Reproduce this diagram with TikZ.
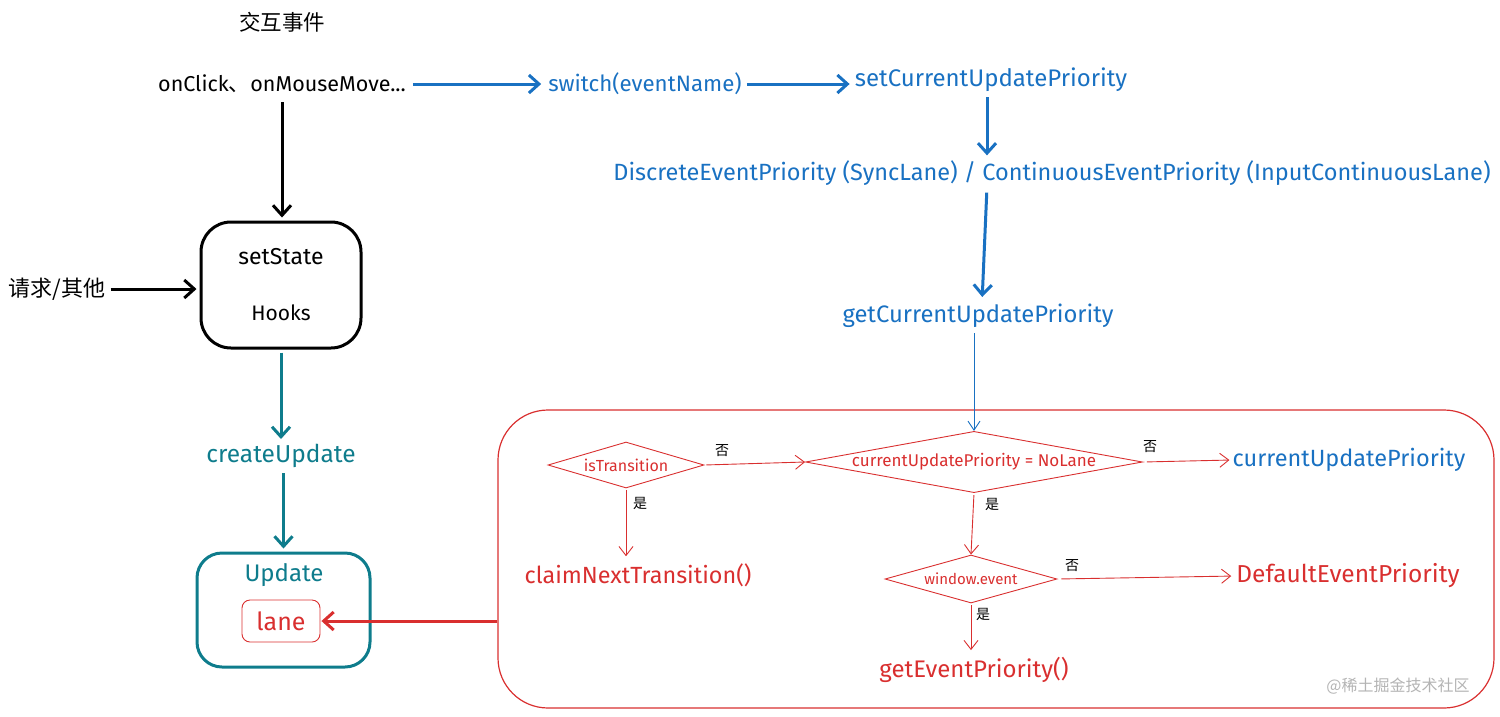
\documentclass[tikz,border=0pt]{standalone}
\usepackage{fontspec}
\setmainfont{Fira Sans}
\newfontfamily\cjk{Noto Sans CJK SC}
\usetikzlibrary{arrows.meta,shapes.geometric}
\definecolor{exblue}{HTML}{1971C2}
\definecolor{exteal}{HTML}{0E7C8C}
\definecolor{exred}{HTML}{D92F2F}
\definecolor{wmgray}{HTML}{B4B4B4}
\begin{document}
\begin{tikzpicture}[x=1pt,y=-1pt,
  lbl/.style={inner sep=1pt, font=\fontsize{20}{24}\selectfont},
  fs/.style={font=\fontsize{#1}{#1}\selectfont},
  small/.style={inner sep=1pt, font=\fontsize{14}{16}\selectfont\cjk},
  dia/.style={diamond, draw=exred, line width=0.9pt, inner sep=0pt, text=exred},
  blk/.style={line width=3pt, black, -{Straight Barb[length=10pt,width=18pt]}},
  blu/.style={line width=3pt, exblue, -{Straight Barb[length=10pt,width=18pt]}},
  tel/.style={line width=3pt, exteal, -{Straight Barb[length=10pt,width=18pt]}},
  thinred/.style={line width=0.9pt, exred, -{Straight Barb[length=9pt,width=14pt]}},
  thinblue/.style={line width=0.9pt, exblue, -{Straight Barb[length=9pt,width=12pt]}},
  thickred/.style={line width=3pt, exred, -{Straight Barb[length=10pt,width=18pt]}}]
\useasboundingbox (0,0) rectangle (1500,716);

% left column
\node[lbl, fs=21.5] (title) at (282,22) {\cjk 交互事件};
\node[lbl, fs=21.5] (click) at (282,84) {onClick{\cjk 、}onMouseMove...};
\node[draw, line width=3pt, rounded corners=30pt, minimum width=160pt, minimum height=126pt] (state) at (281,285) {};
\node[lbl, fs=23] (settxt) at (281,257) {setState};
\node[lbl, fs=21] (hooks) at (281,313) {Hooks};
\node[lbl, fs=22] (req) at (57,289) {\cjk 请求/其他};
\node[lbl, fs=24.5, text=exteal] (create) at (281,456) {createUpdate};
\node[draw=exteal, line width=3pt, rounded corners=25pt, minimum width=173pt, minimum height=114pt] (update) at (283.5,610) {};
\node[lbl, fs=24, text=exteal] (updtxt) at (284,575) {Update};
\node[draw=exred, line width=0.9pt, rounded corners=8pt, minimum width=78pt, minimum height=42pt, text=exred, fs=25] (lane) at (281,621) {lane};

% blue chain
\node[lbl, fs=22.3, text=exblue] (switch) at (645,84) {switch(eventName)};
\node[lbl, fs=24, text=exblue] (setcur) at (991,80) {setCurrentUpdatePriority};
\node[lbl, fs=23.5, text=exblue] (prio) at (1052,173) {DiscreteEventPriority (SyncLane) / ContinuousEventPriority (InputContinuousLane)};
\node[lbl, fs=23.8, text=exblue] (getcur) at (978,316) {getCurrentUpdatePriority};

% red box
\node[draw=exred, line width=1.2pt, rounded corners=50pt, minimum width=996pt, minimum height=298pt] (box) at (996,559) {};
\node[dia, aspect=3.4, fs=16, minimum width=156pt, minimum height=46pt] (istr) at (626,465) {isTransition};
\node[dia, aspect=5.5, fs=17, minimum width=332pt, minimum height=60pt] (nolane) at (974,462) {currentUpdatePriority = NoLane};
\node[dia, aspect=3.6, fs=15, minimum width=172pt, minimum height=48pt] (win) at (971,579) {window.event};
\node[lbl, fs=23.4, text=exred] (claim) at (638,575) {claimNextTransition()};
\node[lbl, fs=23.5, text=exblue] (cup) at (1349,460) {currentUpdatePriority};
\node[lbl, fs=24.5, text=exred] (def) at (1348,576) {DefaultEventPriority};
\node[lbl, fs=24, text=exred] (gep) at (974,670) {getEventPriority()};
\node[small] (no1) at (722,451) {否};
\node[small] (no2) at (1150,447) {否};
\node[small] (no3) at (1072,566) {否};
\node[small] (yes1) at (640,503) {是};
\node[small] (yes2) at (992,504) {是};
\node[small] (yes3) at (983,614) {是};
\node[inner sep=1pt, text=wmgray, font=\fontsize{16}{18}\selectfont\cjk] (wm) at (1398,686) {@稀土掘金技术社区};

% connectors
\draw[blk, shorten <=8pt, shorten >=3pt] (click.south) -- (click.south |- state.north);
\draw[blk, shorten <=4pt, shorten >=3pt] (req.east) -- (state.west |- req.east);
\draw[tel, shorten <=3pt, shorten >=4pt] (state.south) -- (create.north);
\draw[tel, shorten <=4pt, shorten >=3pt] (create.south -| update.north) -- (update.north);
\draw[blu, shorten <=6pt, shorten >=6pt] (click.east) -- (switch.west);
\draw[blu, shorten <=4pt, shorten >=4pt] (switch.east) -- (setcur.west |- switch.east);
\draw[blu, shorten <=4pt, shorten >=4pt] (setcur.south -| 987,0) -- (prio.north -| 987,0);
\draw[blu, shorten <=6pt, shorten >=6pt] (prio.south -| 987,0) -- (getcur.north -| 982,0);
\draw[thinblue, shorten <=4pt] (getcur.south -| nolane.north) -- (nolane.north);
\draw[thinred, shorten <=2pt, shorten >=0pt] (istr.east) -- (nolane.west);
\draw[thinred, shorten <=4pt, shorten >=2pt] (nolane.east) -- (cup.west);
\draw[thinred, shorten <=2pt, shorten >=6pt] (istr.south) -- (istr.south |- claim.north);
\draw[thinred, shorten <=2pt, shorten >=0pt] (nolane.south) -- (win.north);
\draw[thinred, shorten <=4pt, shorten >=4pt] (win.east) -- (def.west);
\draw[thinred, shorten <=2pt, shorten >=6pt] (win.south) -- (win.south |- gep.north);
\draw[thickred, shorten >=1pt] (box.west |- lane.east) -- (lane.east);
\end{tikzpicture}
\end{document}
